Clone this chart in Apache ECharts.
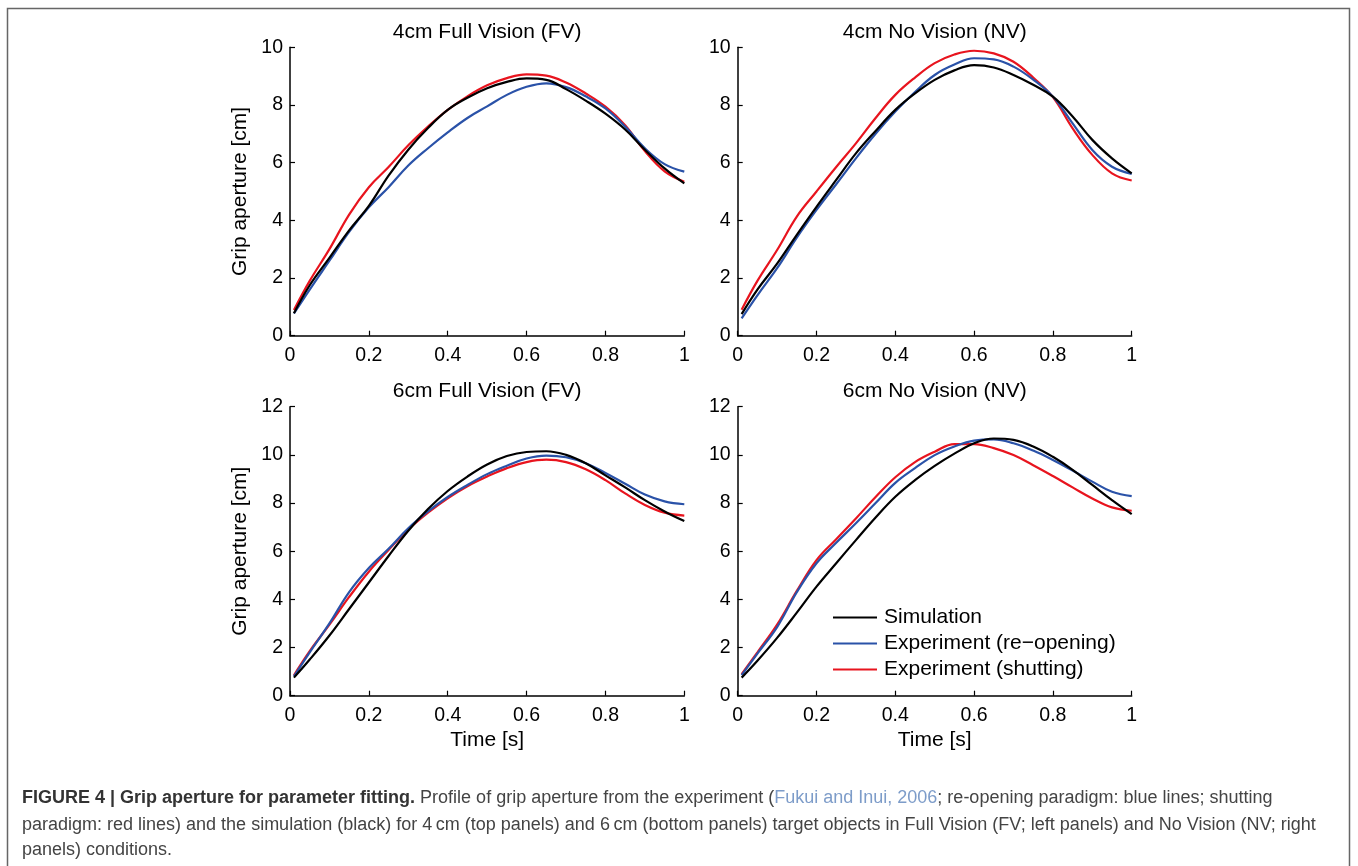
<!DOCTYPE html>
<html>
<head>
<meta charset="utf-8">
<script src="https://cdn.jsdelivr.net/npm/echarts@6/dist/echarts.min.js"></script>
<style>
html,body{margin:0;padding:0;background:#fff;}
#chart{width:1358px;height:866px;}
</style>
</head>
<body>
<div id="chart"></div>
<script>
// ---- data ----
var time = [0.01, 0.05, 0.1, 0.15, 0.2, 0.25, 0.3, 0.35, 0.4, 0.45, 0.5, 0.55, 0.6, 0.65, 0.7, 0.75, 0.8, 0.85, 0.9, 0.95, 1.0];
var seriesNames = ['Simulation', 'Experiment (re\u2212opening)', 'Experiment (shutting)'];
var panelTitles = ['4cm Full Vision (FV)', '4cm No Vision (NV)', '6cm Full Vision (FV)', '6cm No Vision (NV)'];
var xTicks = [0, 0.2, 0.4, 0.6, 0.8, 1];
var yMaxTop = 10, yMaxBottom = 12;

// 4 cm, Full Vision
var sim4FV   = [0.78, 1.75, 2.7, 3.65, 4.5, 5.55, 6.45, 7.2, 7.83, 8.25, 8.58, 8.8, 8.92, 8.87, 8.55, 8.15, 7.7, 7.15, 6.45, 5.8, 5.28];
var reop4FV  = [0.77, 1.6, 2.6, 3.6, 4.45, 5.15, 5.9, 6.5, 7.05, 7.55, 7.95, 8.35, 8.63, 8.75, 8.62, 8.3, 7.88, 7.25, 6.5, 5.95, 5.69];
var shut4FV  = [0.89, 1.9, 3.0, 4.2, 5.15, 5.85, 6.6, 7.25, 7.83, 8.3, 8.68, 8.93, 9.06, 9.02, 8.78, 8.4, 7.94, 7.3, 6.4, 5.7, 5.34];
// 4 cm, No Vision
var sim4NV   = [0.75, 1.6, 2.5, 3.5, 4.47, 5.4, 6.32, 7.1, 7.83, 8.4, 8.87, 9.2, 9.38, 9.3, 9.04, 8.7, 8.29, 7.6, 6.79, 6.15, 5.63];
var reop4NV  = [0.6, 1.4, 2.34, 3.4, 4.36, 5.25, 6.15, 7.0, 7.77, 8.45, 9.04, 9.4, 9.62, 9.58, 9.33, 8.88, 8.29, 7.36, 6.44, 5.86, 5.61];
var shut4NV  = [0.9, 1.9, 2.97, 4.13, 5.0, 5.85, 6.67, 7.55, 8.35, 8.95, 9.45, 9.75, 9.88, 9.79, 9.5, 8.95, 8.27, 7.19, 6.27, 5.63, 5.38];
// 6 cm, Full Vision
var sim6FV   = [0.75, 1.5, 2.5, 3.6, 4.7, 5.8, 6.85, 7.75, 8.5, 9.1, 9.6, 9.95, 10.12, 10.15, 10.0, 9.65, 9.15, 8.65, 8.12, 7.65, 7.25];
var reop6FV  = [0.8, 1.8, 3.0, 4.3, 5.3, 6.1, 6.95, 7.65, 8.25, 8.75, 9.2, 9.55, 9.85, 9.97, 9.9, 9.65, 9.25, 8.8, 8.35, 8.07, 7.95];
var shut6FV  = [0.85, 1.85, 2.95, 4.1, 5.15, 6.05, 6.9, 7.6, 8.2, 8.7, 9.1, 9.45, 9.7, 9.8, 9.7, 9.4, 8.95, 8.4, 7.92, 7.6, 7.48];
// 6 cm, No Vision
var sim6NV   = [0.75, 1.45, 2.4, 3.45, 4.53, 5.5, 6.46, 7.4, 8.26, 8.95, 9.54, 10.05, 10.48, 10.68, 10.62, 10.35, 9.92, 9.38, 8.75, 8.12, 7.54];
var reop6NV  = [0.85, 1.75, 2.85, 4.3, 5.5, 6.35, 7.16, 8.0, 8.84, 9.45, 9.99, 10.35, 10.59, 10.64, 10.48, 10.18, 9.79, 9.35, 8.89, 8.47, 8.29];
var shut6NV  = [0.9, 1.8, 2.95, 4.35, 5.63, 6.5, 7.36, 8.25, 9.07, 9.7, 10.13, 10.45, 10.45, 10.28, 9.99, 9.57, 9.12, 8.65, 8.19, 7.82, 7.68];

var panelData = [
  [sim4FV, reop4FV, shut4FV],
  [sim4NV, reop4NV, shut4NV],
  [sim6FV, reop6FV, shut6FV],
  [sim6NV, reop6NV, shut6NV]
];
var colors = ['#000000', '#2a52a8', '#e8141e'];

// ---- layout ----
var FONT = '"Liberation Sans", Arial, Helvetica, sans-serif';
var grids = [
  {left: 290, top: 47.3, width: 394.3, height: 288.4},
  {left: 737.7, top: 47.3, width: 394, height: 288.4},
  {left: 290, top: 406.7, width: 394.3, height: 289},
  {left: 737.7, top: 406.7, width: 394, height: 289}
];

var xAxes = [], yAxes = [], series = [], titles = [];
grids.forEach(function (g, i) {
  var bottomRow = i >= 2;
  xAxes.push({
    type: 'value', gridIndex: i, min: 0, max: 1, interval: 0.2,
    name: bottomRow ? 'Time [s]' : '', nameLocation: 'middle', nameGap: 34,
    nameTextStyle: {fontFamily: FONT, fontSize: 21, color: '#000'},
    axisLine: {show: true, lineStyle: {color: '#000', width: 1.5}},
    axisTick: {show: true, inside: true, length: 5, lineStyle: {color: '#000', width: 1.2}},
    axisLabel: {fontFamily: FONT, fontSize: 19.5, color: '#000', margin: 10},
    splitLine: {show: false}
  });
  yAxes.push({
    type: 'value', gridIndex: i, min: 0, max: bottomRow ? yMaxBottom : yMaxTop, interval: 2,
    name: (i % 2 === 0) ? 'Grip aperture [cm]' : '', nameLocation: 'middle', nameGap: 39,
    nameTextStyle: {fontFamily: FONT, fontSize: 21, color: '#000'},
    axisLine: {show: true, lineStyle: {color: '#000', width: 1.5}},
    axisTick: {show: true, inside: true, length: 5, lineStyle: {color: '#000', width: 1.2}},
    axisLabel: {fontFamily: FONT, fontSize: 19.5, color: '#000', margin: 7},
    splitLine: {show: false}
  });
  titles.push({
    text: panelTitles[i], left: g.left + g.width / 2, top: g.top - 25.5, textAlign: 'center', padding: 0,
    textStyle: {fontFamily: FONT, fontSize: 21, fontWeight: 'normal', color: '#000'}
  });
  panelData[i].forEach(function (vals, k) {
    series.push({
      name: seriesNames[k], type: 'line', xAxisIndex: i, yAxisIndex: i,
      data: time.map(function (t, j) { return [t, vals[j]]; }),
      smooth: 0.4, showSymbol: false, symbol: 'none',
      color: colors[k],
      lineStyle: {color: colors[k], width: 2.2},
      itemStyle: {color: colors[k]},
      z: 3 - k + 2
    });
  });
});

var option = {
  backgroundColor: '#fff',
  animation: false,
  title: titles,
  grid: grids,
  xAxis: xAxes,
  yAxis: yAxes,
  legend: {
    orient: 'vertical', left: 833, top: 607, itemWidth: 44, itemHeight: 2, itemGap: 5,
    icon: 'rect', padding: 0,
    data: seriesNames,
    textStyle: {fontFamily: FONT, fontSize: 21, color: '#000', padding: [0, 0, 0, 2]}
  },
  series: series,
  graphic: [
    {type: 'rect', shape: {x: 7.5, y: 8.5, width: 1342, height: 900}, style: {fill: 'none', stroke: '#666', lineWidth: 1.5}, silent: true},
    {type: 'text', left: 22, top: 789, style: {
      text: '{b|FIGURE 4 | Grip aperture for parameter fitting.}{n| Profile of grip aperture from the experiment (}{l|Fukui and Inui, 2006}{n|; re-opening paradigm: blue lines; shutting}',
      rich: {
        b: {fontFamily: FONT, fontSize: 18, fontWeight: 'bold', fill: '#333'},
        n: {fontFamily: FONT, fontSize: 18, fill: '#444'},
        l: {fontFamily: FONT, fontSize: 18, fill: '#7d9cc9'}
      }
    }},
    {type: 'text', left: 22, top: 816, style: {
      text: 'paradigm: red lines) and the simulation (black) for 4\u2009cm (top panels) and 6\u2009cm (bottom panels) target objects in Full Vision (FV; left panels) and No Vision (NV; right',
      fontFamily: FONT, fontSize: 18, fill: '#444'
    }},
    {type: 'text', left: 22, top: 841, style: {
      text: 'panels) conditions.',
      fontFamily: FONT, fontSize: 18, fill: '#444'
    }}
  ]
};

var chart = echarts.init(document.getElementById('chart'), null, {renderer: 'canvas'});
chart.setOption(option);
</script>
</body>
</html>
